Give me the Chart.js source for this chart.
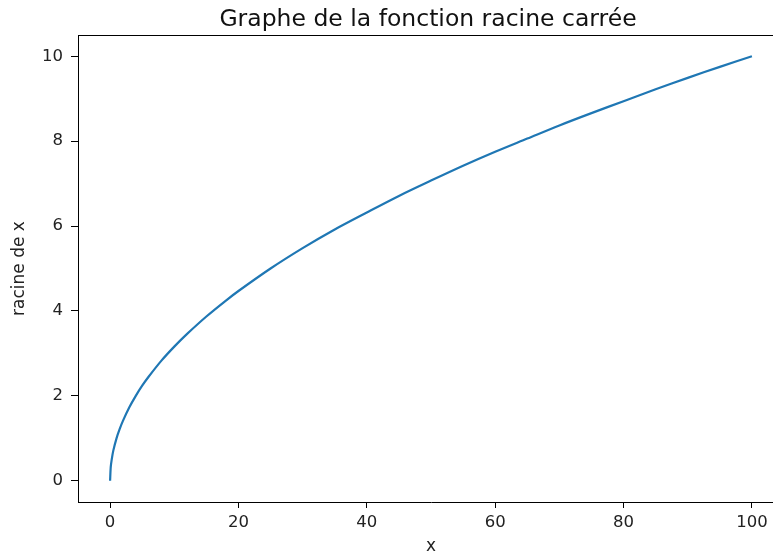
<!DOCTYPE html>
<html>
<head>
<meta charset="utf-8">
<script src="https://cdn.jsdelivr.net/npm/chart.js@4/dist/chart.umd.min.js"></script>
<style>
  html, body { margin: 0; padding: 0; background: #fff; overflow: hidden; }
  #wrap { position: relative; width: 784px; height: 557px; }
</style>
</head>
<body>
<div id="wrap"><canvas id="c"></canvas></div>
<script>
// values
const xValues = [0, 0.1, 0.25, 0.5, 1, 1.5, 2, 3, 4, 5, 6, 8, 10, 12, 15, 18, 20, 25, 30, 35, 40, 45, 50, 55, 60, 65, 70, 75, 80, 85, 90, 95, 100];
const yValues = [0, 0.32, 0.5, 0.71, 1, 1.22, 1.41, 1.73, 2, 2.24, 2.45, 2.83, 3.16, 3.46, 3.87, 4.24, 4.47, 5, 5.48, 5.92, 6.32, 6.71, 7.07, 7.42, 7.75, 8.06, 8.37, 8.66, 8.94, 9.22, 9.49, 9.75, 10];
const xTicks = [0, 20, 40, 60, 80, 100];
const yTicks = [0, 2, 4, 6, 8, 10];
const TITLE = 'Graphe de la fonction racine carrée';
const X_LABEL = 'x';
const Y_LABEL = 'racine de x';

const FONT = "'DejaVu Sans', sans-serif";

// title over the plot area + top spine
const frameTitle = {
  id: 'frameTitle',
  afterDraw(chart) {
    const { ctx, chartArea: a } = chart;
    ctx.save();
    ctx.strokeStyle = '#000';
    ctx.lineWidth = 1;
    ctx.beginPath();
    ctx.moveTo(a.left, a.top + 0.5);
    ctx.lineTo(a.right, a.top + 0.5);
    ctx.stroke();
    ctx.fillStyle = '#111';
    ctx.font = '23.5px ' + FONT;
    ctx.textAlign = 'center';
    ctx.textBaseline = 'alphabetic';
    ctx.fillText(TITLE, 428, 26);
    ctx.restore();
  }
};

Chart.defaults.font.family = FONT;
Chart.defaults.color = '#222';

new Chart(document.getElementById('c'), {
  type: 'scatter',
  data: {
    datasets: [{
      data: xValues.map((x, i) => ({ x, y: yValues[i] })),
      showLine: true,
      borderColor: '#1f77b4',
      borderWidth: 2.2,
      pointRadius: 0,
      tension: 0.3,
      fill: false
    }]
  },
  options: {
    responsive: true,
    maintainAspectRatio: false,
    animation: false,
    layout: { padding: { top: 35, right: 0, left: 0, bottom: 0 } },
    plugins: { legend: { display: false }, tooltip: { enabled: false } },
    scales: {
      x: {
        type: 'linear',
        min: -5,
        max: 105,
        afterBuildTicks: s => { s.ticks = xTicks.map(v => ({ value: v })); },
        afterFit: s => { s.height = 55; },
        ticks: { font: { size: 16.5 }, color: '#222', padding: 5, maxRotation: 0 },
        grid: { drawOnChartArea: false, drawTicks: true, tickLength: 6, color: '#000' },
        border: { display: true, color: '#000', width: 1 },
        title: { display: true, text: X_LABEL, font: { size: 17 }, color: '#222', padding: { top: 3, bottom: 0 } }
      },
      y: {
        type: 'linear',
        min: -0.5,
        max: 10.5,
        afterBuildTicks: s => { s.ticks = yTicks.map(v => ({ value: v })); },
        afterFit: s => { s.width = 78; },
        ticks: { font: { size: 16.5 }, color: '#222', padding: 8 },
        grid: { drawOnChartArea: false, drawTicks: true, tickLength: 7, color: '#000' },
        border: { display: true, color: '#000', width: 1 },
        title: { display: true, text: Y_LABEL, font: { size: 17 }, color: '#222', padding: { top: 9, bottom: 2 } }
      }
    }
  },
  plugins: [frameTitle]
});
</script>
</body>
</html>
